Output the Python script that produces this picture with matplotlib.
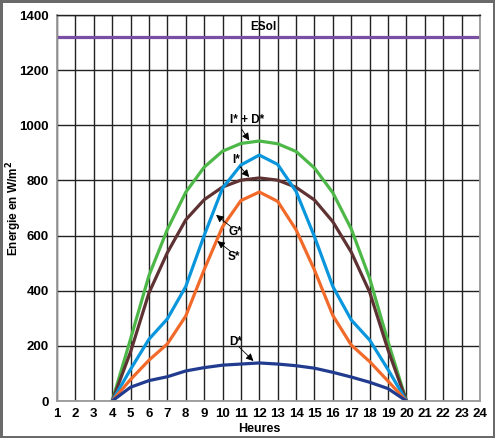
import matplotlib
matplotlib.use('Agg')
import matplotlib.pyplot as plt

plt.rcParams['font.family'] = ['Liberation Sans', 'DejaVu Sans']
plt.rcParams['font.weight'] = 'bold'

hours = list(range(4, 21))
esol = 1320
i_plus_d = [0, 225, 455, 622, 757, 848, 906, 934, 943, 933, 905, 845, 755, 624, 445, 215, 0]
g_star = [0, 178, 392, 538, 657, 730, 776, 801, 809, 801, 775, 729, 650, 540, 395, 185, 0]
i_star = [0, 115, 224, 298, 415, 600, 772, 856, 892, 858, 760, 596, 415, 294, 221, 114, 0]
s_star = [0, 78, 148, 207, 308, 476, 632, 727, 758, 724, 621, 475, 310, 203, 143, 72, 0]
d_star = [0, 50, 74, 88, 109, 121, 130, 134, 138, 134, 128, 119, 104, 87, 68, 45, 0]

x_ticks = list(range(1, 25))
y_ticks = list(range(0, 1401, 200))

W, H = 495, 438
fig = plt.figure(figsize=(W / 100, H / 100), dpi=100, edgecolor='#6a6a6a', linewidth=2.5)
ax = fig.add_axes([57 / W, 1 - 401 / H, 423 / W, 386 / H])

ax.set_xlim(1, 24)
ax.set_ylim(0, 1400)
ax.set_xticks(x_ticks)
ax.set_yticks(y_ticks)
ax.tick_params(length=0, labelsize=9.5, pad=6)
ax.tick_params(axis='x', pad=5)
ax.grid(True, color='#222222', linewidth=1.0)
ax.set_axisbelow(True)
for side in ['left', 'right', 'bottom']:
    ax.spines[side].set_color('#9a9a9a')
    ax.spines[side].set_linewidth(1.3)
ax.spines['top'].set_color('#222222')
ax.spines['top'].set_linewidth(1.0)

lw = 2.3
ax.axhline(esol, color='#7a4fa3', linewidth=lw)
ax.plot(hours, i_plus_d, color='#4db848', linewidth=lw)
ax.plot(hours, g_star, color='#5e3232', linewidth=lw)
ax.plot(hours, i_star, color='#0a96dc', linewidth=lw)
ax.plot(hours, s_star, color='#f26a2a', linewidth=lw)
ax.plot(hours, d_star, color='#213b8e', linewidth=lw)

ax.text(12.2, 1355, 'ESol', fontsize=8.5, ha='center', va='center')

arrow = dict(arrowstyle='-|>', color='black', linewidth=0.6, mutation_scale=11,
             shrinkA=0, shrinkB=0)
labels = [
    ('I* + D*', (11.36, 1019), (11.05, 985), (11.45, 945)),
    ('I*', (10.75, 874), (10.95, 850), (11.45, 812)),
    ('G*', (10.7, 614), (10.55, 627), (9.65, 675)),
    ('S*', (10.62, 523), (10.45, 542), (9.72, 580)),
    ('D*', (10.7, 215), (10.9, 196), (11.68, 145)),
]
for text, pos, tail, tip in labels:
    ax.text(pos[0], pos[1], text, fontsize=8.5, ha='center', va='center')
    ax.annotate('', xy=tip, xytext=tail, arrowprops=arrow)

fig.text(14 / W, 1 - 208 / H, 'Energie en W/m$^2$', fontsize=8.5,
         rotation=90, ha='center', va='center')
fig.text(259 / W, 1 - 429 / H, 'Heures', fontsize=9, ha='center', va='center')

fig.savefig('out.png', dpi=100, edgecolor=fig.get_edgecolor())
